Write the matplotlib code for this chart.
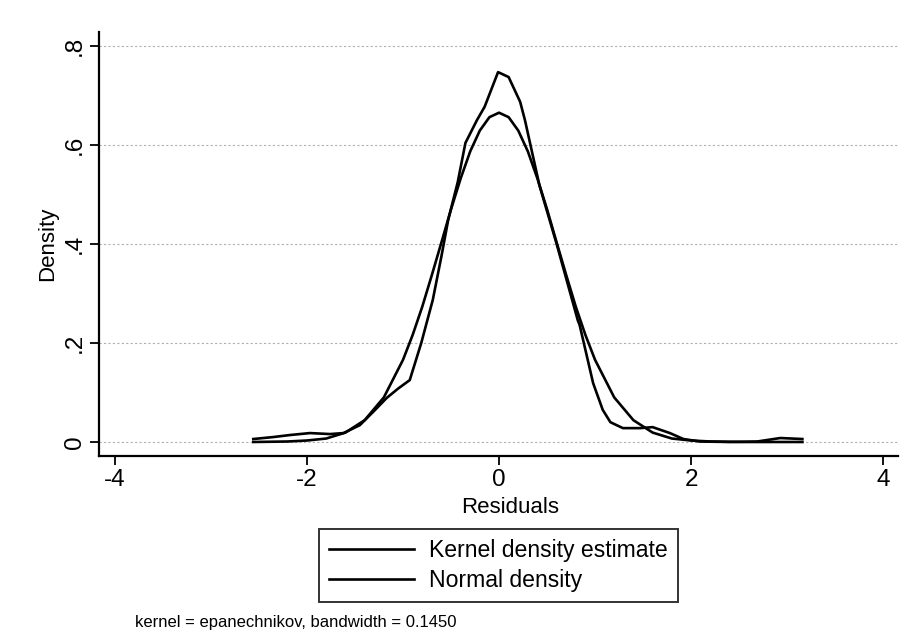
import matplotlib
matplotlib.use("Agg")
import matplotlib.pyplot as plt
from matplotlib.lines import Line2D

plt.rcParams['font.family'] = ['Liberation Sans', 'DejaVu Sans']

# Kernel density estimate
kde_x = [-2.56, -2.35, -2.18, -1.97, -1.76, -1.62, -1.45, -1.31, -1.17, -1.05, -0.93,
         -0.81, -0.69, -0.60, -0.53, -0.43, -0.35, -0.23, -0.15, -0.01, 0.10, 0.22,
         0.27, 0.42, 0.60, 0.70, 0.82, 0.84, 0.98, 1.08, 1.16, 1.29, 1.47, 1.60,
         1.78, 1.92, 2.09, 2.40, 2.69, 2.93, 3.16]
kde_y = [0.006, 0.010, 0.014, 0.018, 0.016, 0.018, 0.034, 0.061, 0.089, 0.108, 0.125,
         0.200, 0.287, 0.375, 0.448, 0.525, 0.604, 0.650, 0.677, 0.747, 0.737, 0.687,
         0.650, 0.519, 0.400, 0.330, 0.246, 0.236, 0.119, 0.065, 0.040, 0.028, 0.028, 0.030,
         0.018, 0.006, 0.001, 0.000, 0.001, 0.008, 0.006]

# Normal density
norm_x = [-2.56, -2.2, -2.0, -1.8, -1.6, -1.4, -1.2, -1.0, -0.9, -0.8, -0.7, -0.6,
          -0.5, -0.4, -0.3, -0.2, -0.1, 0.0, 0.1, 0.2, 0.3, 0.4, 0.5, 0.6, 0.7,
          0.8, 0.9, 1.0, 1.2, 1.4, 1.6, 1.8, 2.0, 2.2, 2.56, 3.16]
norm_y = [0.000, 0.001, 0.003, 0.007, 0.019, 0.044, 0.090, 0.166, 0.216, 0.273, 0.337, 0.403,
          0.470, 0.532, 0.587, 0.629, 0.656, 0.665, 0.656, 0.629, 0.587, 0.532, 0.470, 0.403, 0.337,
          0.273, 0.216, 0.166, 0.090, 0.044, 0.019, 0.007, 0.003, 0.001, 0.000, 0.000]

x_ticks = [-4, -2, 0, 2, 4]
x_tick_labels = ['-4', '-2', '0', '2', '4']
y_ticks = [0, 0.2, 0.4, 0.6, 0.8]
y_tick_labels = ['0', '.2', '.4', '.6', '.8']

fig = plt.figure(figsize=(9.07, 6.32), dpi=100)
ax = fig.add_axes([99/907, 1-456/632, (898-99)/907, (456-32)/632])

for yv in y_ticks:
    ax.axhline(yv, color='#b0b0b0', lw=0.8, ls=(0, (2, 2)), zorder=0)

ax.plot(kde_x, kde_y, color='black', lw=1.9, zorder=3)
ax.plot(norm_x, norm_y, color='black', lw=1.9, zorder=3)

ax.set_xlim(-4.167, 4.156)
ax.set_ylim(-0.0283, 0.828)
ax.spines['top'].set_visible(False)
ax.spines['right'].set_visible(False)
for s in ('left', 'bottom'):
    ax.spines[s].set_linewidth(1.6)

ax.set_xticks(x_ticks)
ax.set_xticklabels(x_tick_labels, fontsize=17.5)
ax.set_yticks(y_ticks)
ax.set_yticklabels(y_tick_labels, fontsize=17.5, rotation=90, va='center')
ax.tick_params(direction='out', length=6.5, width=1.3, pad=3)

ax.set_xlabel('Residuals', fontsize=16, labelpad=0)
ax.xaxis.set_label_coords(0.514, -0.097)
ax.set_ylabel('Density', fontsize=16, labelpad=4)

handles = [Line2D([], [], color='black', lw=1.9), Line2D([], [], color='black', lw=1.9)]
leg = fig.legend(handles, ['Kernel density estimate', 'Normal density'],
                 loc='center', bbox_to_anchor=(498.5/907, 1-565.5/632),
                 fontsize=16.6, frameon=True, fancybox=False, edgecolor='black',
                 handlelength=3.7, handletextpad=0.65, borderpad=0.45, labelspacing=0.3,
                 borderaxespad=0)
leg.get_frame().set_linewidth(1.4)

fig.text(135/907, 1-622/632, 'kernel = epanechnikov, bandwidth = 0.1450',
         fontsize=12, va='center', ha='left')

fig.savefig('out.png', dpi=100)
